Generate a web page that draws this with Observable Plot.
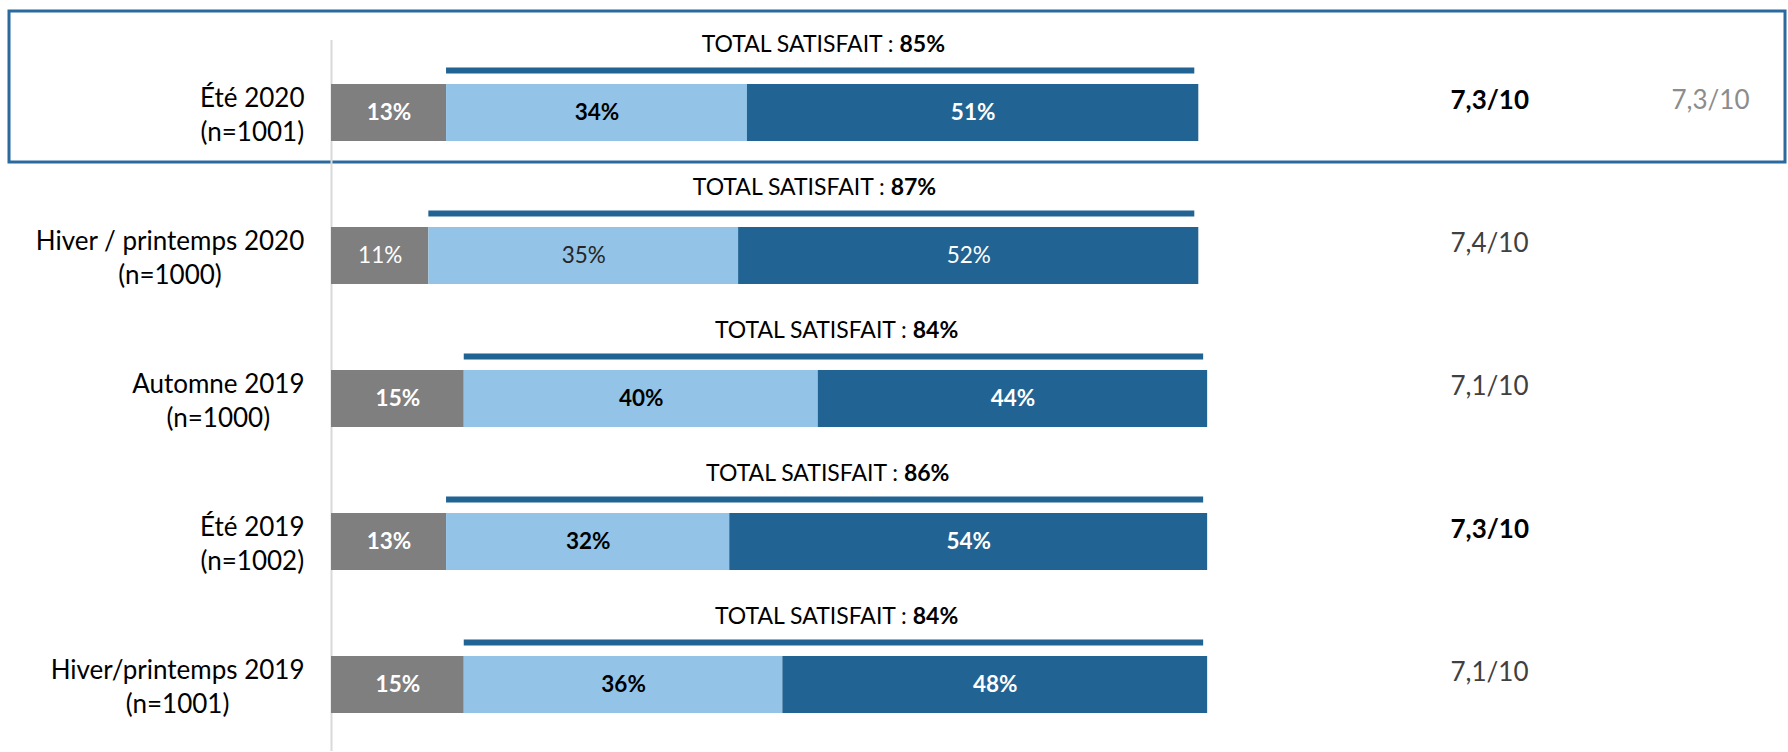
<!DOCTYPE html>
<html><head><meta charset="utf-8">
<script src="https://cdn.jsdelivr.net/npm/d3@7"></script>
<script src="https://cdn.jsdelivr.net/npm/@observablehq/plot@0.6"></script>
<style>html,body{margin:0;padding:0;background:#fff;} #chart svg{display:block;overflow:visible}</style>
</head><body><div id="chart"></div>
<script>
// ---- data ----
const waves = ["Été 2020", "Hiver / printemps 2020", "Automne 2019", "Été 2019", "Hiver/printemps 2019"];
const sampleSizes = [1001, 1000, 1000, 1002, 1001];
const segments = ["Non satisfait", "Assez satisfait", "Très satisfait"];
const nonSatisfait = [13, 11, 15, 13, 15];
const assezSatisfait = [34, 35, 40, 32, 36];
const tresSatisfait = [51, 52, 44, 54, 48];
const totalSatisfait = [85, 87, 84, 86, 84];
const scores = ["7,3/10", "7,4/10", "7,1/10", "7,3/10", "7,1/10"];
const previousScores = ["7,3/10", null, null, null, null];

// ---- style config ----
const segmentColors = ["#7F7F7F", "#93C4E8", "#216393"];
const segmentTextColors = ["#ffffff", "#000000", "#ffffff"];
const lineColor = "#216393";
const boxColor = "#2B6A9E";
const boldScoreWaves = ["Été 2020", "Été 2019"];
const regularLabelWaves = ["Hiver / printemps 2020"];
const FONT = "Lato";

const data = waves.flatMap((w, i) => [nonSatisfait[i], assezSatisfait[i], tresSatisfait[i]]
  .map((v, k) => ({wave: w, segment: segments[k], k, value: v})));
const rows = waves.map((w, i) => ({
  wave: w, n: sampleSizes[i], low: nonSatisfait[i], total: totalSatisfait[i],
  score: scores[i], prev: previousScores[i]
}));

// text measurement
const ctx = document.createElement("canvas").getContext("2d");
function tw(s, font) { ctx.font = font; return ctx.measureText(s).width; }

const labelSize = 26;
const labelMarks = rows.map(r => {
  const lines = [r.wave, `(n=${r.n})`];
  const maxW = Math.max(...lines.map(l => tw(l, `${labelSize}px ${FONT}`)));
  return Plot.text([r], {
    y: "wave", text: d => `${d.wave}\n(n=${d.n})`, frameAnchor: "left",
    textAnchor: "middle", dx: -27 - maxW / 2, fontSize: labelSize, lineHeight: 1.33, fill: "#000"
  });
});

const totSize = 23;
const prefix = "TOTAL SATISFAIT : ";
const wP = tw(prefix, `${totSize}px ${FONT}`);
const wN = tw("85%", `bold ${totSize}px ${FONT}`);
const totDx = (wP - wN) / 2;

function highlightBox(index, scales, values, dimensions) {
  const y = scales.y;
  const bw = y.bandwidth ? y.bandwidth() : 57.5;
  const top = y(waves[0]);
  return d3.create("svg:rect")
    .attr("x", 9).attr("y", top - 73)
    .attr("width", dimensions.width - 9 - 3).attr("height", bw + 94)
    .attr("fill", "none").attr("stroke", boxColor).attr("stroke-width", 3)
    .node();
}

const plot = Plot.plot({
  width: 1788, height: 752,
  marginLeft: 331, marginRight: 572, marginTop: 47, marginBottom: 1,
  style: {fontFamily: FONT, background: "#fff", overflow: "visible"},
  x: {domain: [0, 100], axis: null},
  y: {domain: waves, axis: null, paddingInner: 0.6, paddingOuter: 0.25},
  marks: [
    highlightBox,
    Plot.ruleX([0], {stroke: "#d9d9d9", strokeWidth: 2, insetTop: -7}),
    Plot.barX(data, Plot.stackX({x: "value", y: "wave", fill: d => segmentColors[d.k]})),
    Plot.ruleY(rows, {y: "wave", x1: "low", x2: d => d.low + d.total, stroke: lineColor,
      strokeWidth: 6, dy: -42.5, insetRight: 4}),
    Plot.text(rows, {x: d => d.low + d.total / 2, y: "wave", text: () => prefix, textAnchor: "end",
      dx: totDx, dy: -68, fontSize: totSize, fill: "#000"}),
    Plot.text(rows, {x: d => d.low + d.total / 2, y: "wave", text: d => `${d.total}%`, textAnchor: "start",
      dx: totDx, dy: -68, fontSize: totSize, fontWeight: "bold", fill: "#000"}),
    Plot.text(data, Plot.stackX({x: "value", y: "wave", text: d => `${d.value}%`,
      fill: d => segmentTextColors[d.k], fontSize: 22.5, fontWeight: "bold",
      filter: d => !regularLabelWaves.includes(d.wave)})),
    Plot.text(data, Plot.stackX({x: "value", y: "wave", text: d => `${d.value}%`,
      fill: d => segmentTextColors[d.k] === "#000000" ? "#262626" : "#ffffff", fontSize: 22.5,
      filter: d => regularLabelWaves.includes(d.wave)})),
    ...labelMarks,
    Plot.text(rows, {y: "wave", text: "score", frameAnchor: "right", textAnchor: "start", dx: 234, dy: -12,
      fontSize: 26, fontWeight: "bold", fill: "#000", filter: d => boldScoreWaves.includes(d.wave)}),
    Plot.text(rows, {y: "wave", text: "score", frameAnchor: "right", textAnchor: "start", dx: 234, dy: -12,
      fontSize: 26, fill: "#404040", filter: d => !boldScoreWaves.includes(d.wave)}),
    Plot.text(rows, {y: "wave", text: "prev", frameAnchor: "right", textAnchor: "start", dx: 455, dy: -12,
      fontSize: 26, fill: "#8C8C8C", filter: d => d.prev != null})
  ]
});
document.getElementById("chart").append(plot);
</script>
</body></html>
